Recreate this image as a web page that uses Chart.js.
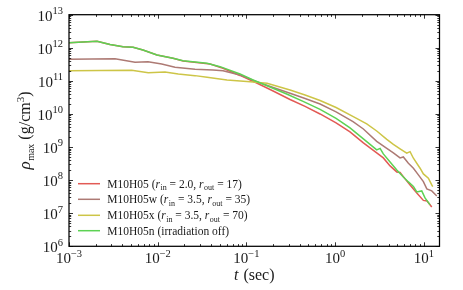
<!DOCTYPE html>
<html><head><meta charset="utf-8">
<script src="https://cdn.jsdelivr.net/npm/chart.js@4/dist/chart.umd.min.js"></script>
<style>html,body{margin:0;padding:0;background:#fff;}canvas{display:block;}</style>
</head><body>
<canvas id="c" width="463" height="290"></canvas>
<script>
// ---- data (t in sec, rho_max in g/cm^3) ----
const redT = [0.001, 0.00144, 0.00207, 0.0029, 0.00406, 0.00527, 0.00682, 0.00982, 0.01488, 0.0193, 0.0389, 0.0544, 0.0847, 0.1306, 0.200, 0.310, 0.458, 0.676, 1.024, 1.47, 2.08, 2.94, 3.49, 4.16, 4.95, 5.39, 6.14, 6.99, 8.32, 9.87, 10.86, 12.27];
const redRho = [1.43e12, 1.50e12, 1.57e12, 1.26e12, 1.08e12, 1.035e12, 8.6e11, 6.06e11, 4.82e11, 4.0e11, 3.24e11, 2.40e11, 1.46e11, 8.64e10, 4.95e10, 2.74e10, 1.69e10, 1.0e10, 5.35e9, 2.86e9, 1.33e9, 6.64e8, 4.69e8, 2.69e8, 1.77e8, 1.71e8, 1.09e8, 7.16e7, 4.10e7, 2.44e7, 2.35e7, 1.55e7];

const brownT = [0.001, 0.00330, 0.00555, 0.00777, 0.01109, 0.01567, 0.02633, 0.0420, 0.0544, 0.0847, 0.1306, 0.200, 0.310, 0.458, 0.676, 1.024, 1.59, 2.08, 2.94, 3.82, 4.53, 5.39, 5.87, 6.69, 7.62, 8.67, 9.87, 10.79, 12.27, 13.97];
const brownRho = [4.50e11, 4.69e11, 3.65e11, 3.80e11, 3.24e11, 2.58e11, 2.24e11, 2.13e11, 2.03e11, 1.51e11, 9.46e10, 6.32e10, 4.22e10, 2.94e10, 2.00e10, 1.15e10, 5.85e9, 3.52e9, 1.48e9, 9.08e8, 6.64e8, 4.69e8, 5.02e8, 3.24e8, 2.29e8, 1.44e8, 9.0e7, 5.42e7, 4.72e7, 3.33e7];

const yellowT = [0.001, 0.00509, 0.00783, 0.01207, 0.01706, 0.02633, 0.036, 0.0604, 0.110, 0.1706, 0.310, 0.458, 0.676, 1.024, 1.60, 2.27, 2.94, 3.82, 4.53, 5.39, 6.41, 6.99, 7.62, 9.06, 9.87, 11.24, 12.27, 12.59];
const yellowRho = [2.03e11, 2.09e11, 1.77e11, 1.86e11, 1.62e11, 1.44e11, 1.28e11, 1.06e11, 9.46e10, 8.46e10, 5.31e10, 3.75e10, 2.56e10, 1.57e10, 8.29e9, 4.99e9, 3.06e9, 1.70e9, 1.20e9, 8.77e8, 6.50e8, 7.26e8, 4.59e8, 2.29e8, 1.54e8, 1.14e8, 7.16e7, 6.37e7];

const greenT = [0.001, 0.00144, 0.00207, 0.0029, 0.00406, 0.00527, 0.00682, 0.00982, 0.01488, 0.0193, 0.036, 0.0504, 0.0847, 0.1186, 0.1845, 0.284, 0.435, 0.676, 1.024, 1.47, 2.08, 2.94, 3.21, 3.49, 4.16, 4.95, 5.87, 6.69, 7.62, 8.32, 9.46, 10.3, 11.75];
const greenRho = [1.43e12, 1.50e12, 1.57e12, 1.26e12, 1.08e12, 1.035e12, 8.6e11, 6.06e11, 4.82e11, 4.07e11, 3.40e11, 2.69e11, 1.62e11, 1.06e11, 6.55e10, 4.02e10, 2.39e10, 1.37e10, 7.31e9, 3.78e9, 1.76e9, 8.17e8, 9.08e8, 6.19e8, 3.55e8, 2.03e8, 1.25e8, 8.83e7, 6.45e7, 4.40e7, 4.72e7, 2.90e7, 1.78e7];

const modelNames = ['M10H05', 'M10H05w', 'M10H05x', 'M10H05n'];
const rIn = ['2.0', '3.5', '3.5', null];
const rOut = ['17', '35', '70', null];
const seriesColors = ['#e25a55', '#ad7a74', '#cdc547', '#5dd253'];

const xTicks = [1e-3, 1e-2, 1e-1, 1, 10];
const xTickExp = ['\u22123', '\u22122', '\u22121', '0', '1'];
const yTicks = [1e6, 1e7, 1e8, 1e9, 1e10, 1e11, 1e12, 1e13];
const yTickExp = ['6', '7', '8', '9', '10', '11', '12', '13'];
const xMin = 1e-3, xMax = 15, yMin = 1e6, yMax = 1e13;

// ---- helpers ----
const SERIF = '"Liberation Serif", "DejaVu Serif", serif';
function richWidth(ctx, parts) {
  let w = 0;
  for (const p of parts) { ctx.font = p.f; w += ctx.measureText(p.t).width + (p.gap || 0); }
  return w;
}
function drawRich(ctx, parts, x, y, align) {
  const w = richWidth(ctx, parts);
  let cx = align === 'center' ? x - w / 2 : align === 'right' ? x - w : x;
  ctx.textAlign = 'left';
  for (const p of parts) {
    ctx.font = p.f;
    ctx.fillText(p.t, cx, y + (p.dy || 0));
    cx += ctx.measureText(p.t).width + (p.gap || 0);
  }
}
function tickParts(e) {
  return [{ t: '10', f: `15px ${SERIF}` }, { t: e, f: `10.5px ${SERIF}`, dy: -6.5 }];
}
function legendParts(i) {
  const F = `11.5px ${SERIF}`, FI = `italic 11.5px ${SERIF}`, FS = `8px ${SERIF}`;
  if (rIn[i] === null) return [{ t: modelNames[i] + ' (irradiation off)', f: F }];
  return [
    { t: modelNames[i] + ' (', f: F },
    { t: 'r', f: FI, gap: 0.5 }, { t: 'in', f: FS, dy: 2.5 },
    { t: ' = ' + rIn[i] + ', ', f: F },
    { t: 'r', f: FI, gap: 0.5 }, { t: 'out', f: FS, dy: 2.5 },
    { t: ' = ' + rOut[i] + ')', f: F }
  ];
}

const framePlugin = {
  id: 'frame',
  afterDatasetsDraw(chart) {
    const { ctx, chartArea: a, scales: { x, y } } = chart;
    ctx.save();
    ctx.fillStyle = '#1a1a1a';
    ctx.strokeStyle = '#000';
    // inward ticks, all four sides
    ctx.lineWidth = 0.8;
    ctx.beginPath();
    for (let d = -3; d <= 1; d++) {
      for (let m = 1; m <= 9; m++) {
        const v = m * Math.pow(10, d);
        if (v < xMin || v > xMax) continue;
        const px = Math.round(x.getPixelForValue(v)) + 0.5;
        const len = m === 1 ? 4 : 2.2;
        ctx.moveTo(px, a.bottom); ctx.lineTo(px, a.bottom - len);
        ctx.moveTo(px, a.top); ctx.lineTo(px, a.top + len);
      }
    }
    for (let d = 6; d <= 13; d++) {
      for (let m = 1; m <= 9; m++) {
        const v = m * Math.pow(10, d);
        if (v < yMin || v > yMax) continue;
        const py = Math.round(y.getPixelForValue(v)) + 0.5;
        const len = m === 1 ? 4 : 2.2;
        ctx.moveTo(a.left, py); ctx.lineTo(a.left + len, py);
        ctx.moveTo(a.right, py); ctx.lineTo(a.right - len, py);
      }
    }
    ctx.stroke();
    // frame
    ctx.lineWidth = 1.25;
    ctx.strokeRect(a.left, a.top, a.right - a.left, a.bottom - a.top);

    // tick labels
    ctx.textBaseline = 'alphabetic';
    xTicks.forEach((v, i) => {
      drawRich(ctx, tickParts(xTickExp[i]), x.getPixelForValue(v), a.bottom + 17, 'center');
    });
    yTicks.forEach((v, i) => {
      drawRich(ctx, tickParts(yTickExp[i]), a.left - 6, y.getPixelForValue(v) + 5.8, 'right');
    });

    // axis titles
    drawRich(ctx, [
      { t: 't', f: `italic 16px ${SERIF}`, gap: 1 },
      { t: ' (sec)', f: `16px ${SERIF}` }
    ], (a.left + a.right) / 2, 280, 'center');

    ctx.save();
    ctx.translate(30, (a.top + a.bottom) / 2);
    ctx.rotate(-Math.PI / 2);
    drawRich(ctx, [
      { t: '\u03C1', f: `italic 17px ${SERIF}`, gap: 0.5 },
      { t: 'max', f: `10px ${SERIF}`, dy: 3.5 },
      { t: ' (g/cm', f: `16px ${SERIF}`, gap: 0 },
      { t: '3', f: `11px ${SERIF}`, dy: -6.5 },
      { t: ')', f: `16px ${SERIF}` }
    ], 0, 0, 'center');
    ctx.restore();

    // legend
    const rows = [183.7, 199.3, 215.3, 230.7];
    rows.forEach((ry, i) => {
      ctx.strokeStyle = seriesColors[i];
      ctx.lineWidth = 1.5;
      ctx.beginPath(); ctx.moveTo(78, ry); ctx.lineTo(100, ry); ctx.stroke();
      ctx.fillStyle = '#1a1a1a';
      drawRich(ctx, legendParts(i), 107.3, ry + 3.8, 'left');
    });
    ctx.restore();
  }
};

const mk = (t, r) => t.map((v, i) => ({ x: v, y: r[i] }));
const seriesT = [redT, brownT, yellowT, greenT];
const seriesRho = [redRho, brownRho, yellowRho, greenRho];
const datasets = modelNames.map((n, i) => ({
  label: n,
  data: mk(seriesT[i], seriesRho[i]),
  borderColor: seriesColors[i],
  backgroundColor: seriesColors[i],
  borderWidth: 1.5,
  pointRadius: 0,
  tension: 0,
  fill: false,
  order: 4 - i
}));

new Chart(document.getElementById('c').getContext('2d'), {
  type: 'line',
  data: { datasets },
  options: {
    responsive: false,
    animation: false,
    devicePixelRatio: 1,
    layout: { padding: { left: 69, top: 14.7, right: 23.5, bottom: 43.7 } },
    plugins: { legend: { display: false }, tooltip: { enabled: false } },
    scales: {
      x: {
        type: 'logarithmic', min: xMin, max: xMax,
        ticks: { display: false }, grid: { display: false, drawTicks: false }, border: { display: false },
        afterFit(s) { s.height = 0; }
      },
      y: {
        type: 'logarithmic', min: yMin, max: yMax,
        ticks: { display: false }, grid: { display: false, drawTicks: false }, border: { display: false },
        afterFit(s) { s.width = 0; }
      }
    }
  },
  plugins: [framePlugin]
});
</script>
</body></html>
